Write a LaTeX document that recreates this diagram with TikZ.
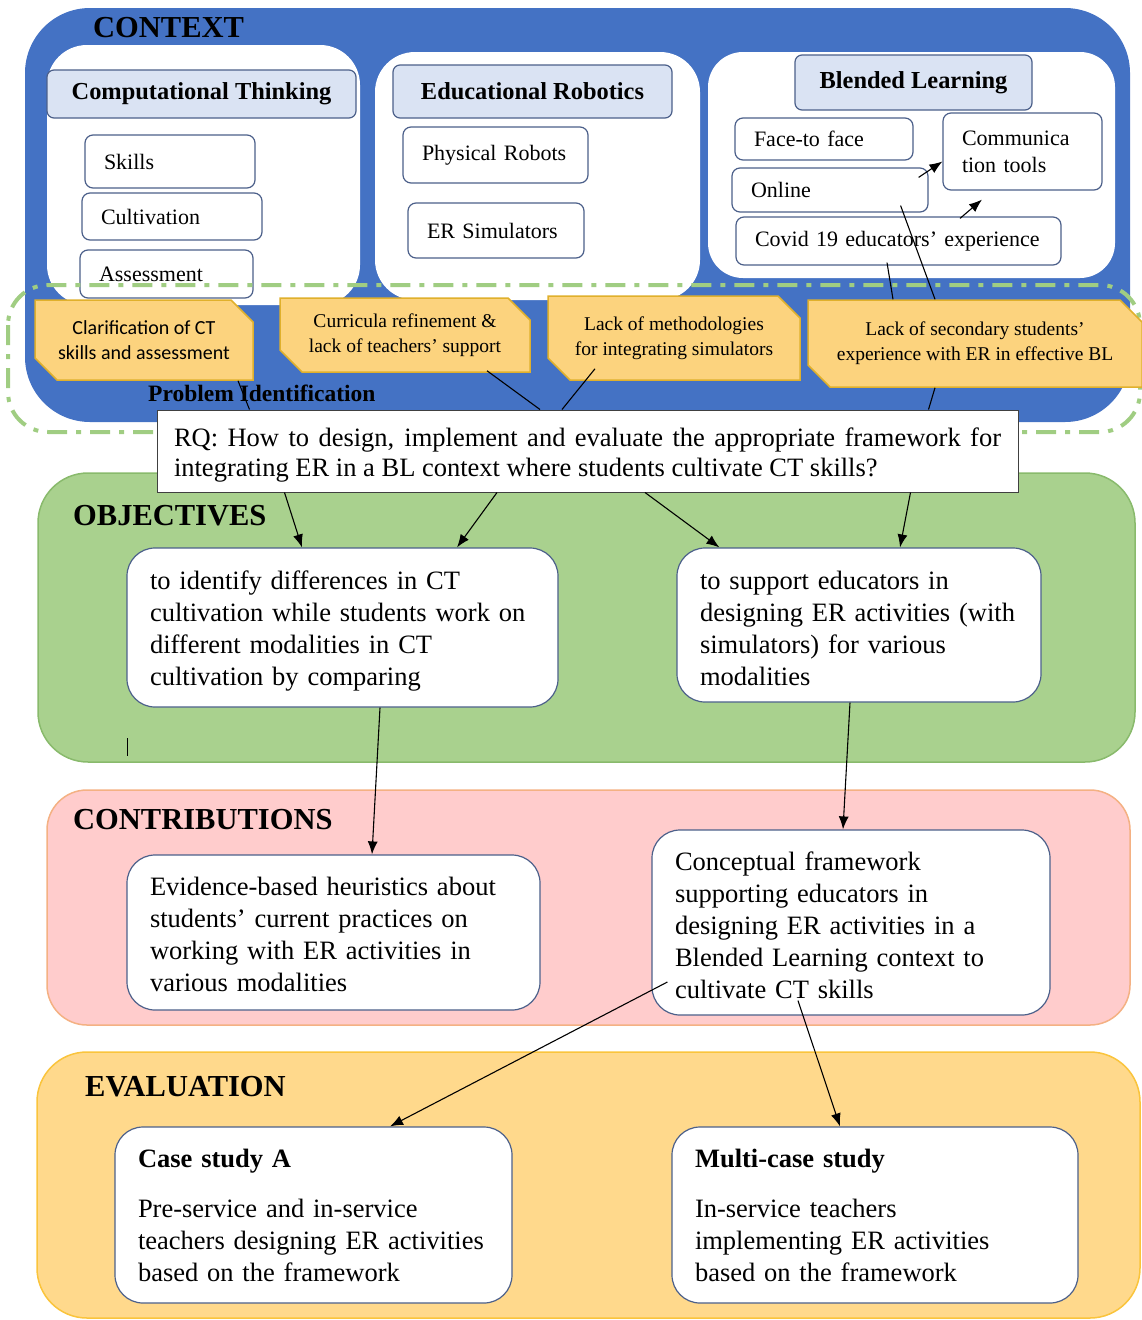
\documentclass[tikz,border=0pt]{standalone}
\usepackage{fontspec}
\setmainfont{Liberation Serif}
\newfontfamily\tabsans{Carlito}
\usetikzlibrary{arrows.meta,shapes.misc}

\definecolor{ctxblue}{RGB}{68,114,196}
\definecolor{headfill}{RGB}{218,227,243}
\definecolor{slate}{RGB}{76,96,138}
\definecolor{tabfill}{RGB}{252,211,126}
\definecolor{tabline}{RGB}{224,176,44}
\definecolor{objgreen}{RGB}{169,209,142}
\definecolor{objline}{RGB}{137,186,108}
\definecolor{dashgreen}{RGB}{160,205,130}
\definecolor{conpink}{RGB}{255,204,204}
\definecolor{conline}{RGB}{244,177,131}
\definecolor{evalfill}{RGB}{255,217,140}
\definecolor{evalline}{RGB}{250,196,60}

\newcommand\fntbody{\fontsize{26.5}{32}\selectfont}
\newcommand\fntrq{\fontsize{26.5}{30}\selectfont}
\newcommand\fntsect{\fontsize{30.5}{36}\selectfont\bfseries}
\newcommand\fnthead{\fontsize{24.4}{29}\selectfont\bfseries}
\newcommand\fntprob{\fontsize{23.5}{28}\selectfont\bfseries}
\newcommand\fntsub{\fontsize{22}{27}\selectfont}
\newcommand\fnttab{\fontsize{19.5}{25}\selectfont}
\newcommand\fnttabsans{\tabsans\fontsize{20}{25}\selectfont}

\begin{document}
\begin{tikzpicture}[x=1pt,y=-1pt,
  headbox/.style={draw=slate, line width=1.2pt, fill=headfill, rounded corners=7pt, font=\fnthead},
  subbox/.style={draw=slate, line width=1.2pt, fill=white, rounded corners=8pt, inner xsep=19pt, inner ysep=0pt, align=left, font=\fntsub},
  tabbox/.style={chamfered rectangle, chamfered rectangle corners={north east,south west}, chamfered rectangle sep=11pt, draw=tabline, line width=1.5pt, fill=tabfill, align=center, font=\fnttab, inner sep=0pt},
  mainbox/.style={draw=slate, line width=1.2pt, fill=white, rounded corners=28pt, inner xsep=23pt, align=left, font=\fntbody},
  lowtext/.style={execute at begin node={\rule{0pt}{#1}}},
  sectitle/.style={anchor=west, font=\fntsect, inner sep=0pt},
  conn/.style={line width=1.1pt},
  arr/.style={conn, -{Latex[length=13pt,width=10pt]}}]
\useasboundingbox (0,0) rectangle (1142,1320);

%Shape: context area
\fill[ctxblue, rounded corners=65pt] (25,8) rectangle (1130,422);
\fill[white, rounded corners=40pt] (47,45) rectangle (360,305);
\fill[white, rounded corners=40pt] (375,52) rectangle (700,300);
\fill[white, rounded corners=35pt] (708,52) rectangle (1115,278);

% Text Node
\node[sectitle] (ctxTitle) at (93,28) {CONTEXT};

% Headers
\node[headbox, minimum width=309pt, minimum height=48pt] (ctHead) at (201.5,94) {Computational Thinking};
\node[headbox, minimum width=279pt, minimum height=53pt] (erHead) at (532.5,91.5) {Educational Robotics};
\node[headbox, minimum width=237pt, minimum height=55pt] (blHead) at (913.5,82.5) {Blended Learning};

% Context items
\node[subbox, text width=132pt, minimum height=53pt] (skills) at (170,161.5) {Skills};
\node[subbox, text width=142pt, minimum height=47pt] (cultiv) at (172,216.5) {Cultivation};
\node[subbox, text width=135pt, minimum height=48pt] (assess) at (166.5,274) {Assessment};
\node[subbox, text width=147pt, minimum height=56pt] (physRob) at (495.5,155) {Physical Robots};
\node[subbox, text width=138pt, minimum height=55pt] (erSim) at (496,230.5) {ER Simulators};
\node[subbox, text width=140pt, minimum height=42pt] (face) at (824,139) {Face-to face};
\node[subbox, text width=158pt, minimum height=44pt] (online) at (830,190) {Online};
\node[subbox, text width=287pt, minimum height=48pt] (covid) at (898.5,241) {Covid 19 educators’ experience};
\node[subbox, text width=121pt, minimum height=77pt] (comm) at (1022.5,151.5) {Communica\\tion tools};

%Shape: problem identification band
\draw[dashgreen, line width=4pt, dash pattern=on 20pt off 9pt on 5pt off 9pt, rounded corners=40pt] (8,285) rectangle (1140,432);

% Problems
\node[tabbox, font=\fnttabsans, minimum width=218pt, minimum height=80pt] (tab1) at (144,340) {Clarification of CT\\skills and assessment};
\node[tabbox, minimum width=250pt, minimum height=74pt] (tab2) at (405,335) {Curricula refinement \&\\lack of teachers’ support};
\node[tabbox, minimum width=252pt, minimum height=84pt] (tab3) at (674,338) {Lack of methodologies\\for integrating simulators};
\node[tabbox, minimum width=334pt, minimum height=87pt] (tab4) at (975,343.5) {Lack of secondary students’\\experience with ER in effective BL};

% Text Node
\node[anchor=west, font=\fntprob, inner sep=0pt] (probId) at (148,393) {Problem Identification};

%Shape: objectives, contributions, evaluation areas
\draw[objline, fill=objgreen, line width=1.5pt, rounded corners=50pt] (38,473) rectangle (1135,762);
\draw[conline, fill=conpink, line width=1.5pt, rounded corners=40pt] (47,790) rectangle (1130,1025);
\draw[evalline, fill=evalfill, line width=1.5pt, rounded corners=50pt] (37,1052) rectangle (1140,1318);
\draw[line width=0.8pt] (127,738) -- (127,756);

\node[sectitle] (objTitle) at (73,516) {OBJECTIVES};
\node[sectitle] (conTitle) at (73,820) {CONTRIBUTIONS};
\node[sectitle] (evTitle) at (85,1087) {EVALUATION};

% Research question
\node[draw=black!75, line width=1pt, fill=white, text width=827pt, inner xsep=17pt, minimum height=82pt, align=justify, font=\fntrq, lowtext=26pt] (rq) at (587.5,451) {RQ: How to design, implement and evaluate the appropriate framework for\linebreak integrating ER in a BL context where students cultivate CT skills?};

% Boxes
\node[mainbox, lowtext=26pt, text width=385pt, minimum height=159pt] (obj1) at (342.5,627.5) {to identify differences in CT\\cultivation while students work on\\different modalities in CT\\cultivation by comparing};
\node[mainbox, lowtext=26pt, text width=318pt, minimum height=154pt] (obj2) at (859,625) {to support educators in\\designing ER activities (with\\simulators) for various\\modalities};
\node[mainbox, lowtext=22pt, text width=367pt, minimum height=155pt] (cont1) at (333.5,932.5) {Evidence-based heuristics about\\students’ current practices on\\working with ER activities in\\various modalities};
\node[mainbox, lowtext=24pt, text width=352pt, minimum height=185pt] (cont2) at (851,922.5) {Conceptual framework\\supporting educators in\\designing ER activities in a\\Blended Learning context to\\cultivate CT skills};
\node[mainbox, text width=351pt, minimum height=176pt] (caseA) at (313.5,1215) {\textbf{Case study A}\\[18pt]Pre-service and in-service\\teachers designing ER activities\\based on the framework};
\node[mainbox, text width=360pt, minimum height=176pt] (multi) at (875,1215) {\textbf{Multi-case study}\\[18pt]In-service teachers\\implementing ER activities\\based on the framework};

% Context links
\draw[arr] ([xshift=-10pt,yshift=-10pt]online.north east) -- ([yshift=-10pt]comm.west);
\draw[arr] ([xshift=61.5pt,yshift=-2pt]covid.north) -- ([xshift=-40.5pt,yshift=-9pt]comm.south);
\draw[conn] ([xshift=-28pt,yshift=7pt]online.south east) -- ([xshift=-40pt]tab4.north);
\draw[conn] ([xshift=-11.5pt,yshift=3pt]covid.south) -- ([xshift=-82pt]tab4.north);

% Problems to RQ
\draw[conn] ([xshift=94pt]tab1.south) -- ([xshift=93pt]rq.north west);
\draw[conn] ([xshift=82pt,yshift=2pt]tab2.south) -- ([xshift=-47.5pt]rq.north);
\draw[conn] ([xshift=-79pt,yshift=12pt]tab3.south) -- ([xshift=-25.5pt]rq.north);
\draw[conn] ([xshift=-40pt]tab4.south) -- ([xshift=-90pt]rq.north east);

% RQ to objectives
\draw[arr] ([xshift=128pt]rq.south west) -- ([xshift=-40.5pt]obj1.north);
\draw[arr] ([xshift=-90.5pt]rq.south) -- ([xshift=114.5pt]obj1.north);
\draw[arr] ([xshift=57.5pt]rq.south) -- ([xshift=43pt]obj2.north west);
\draw[arr] ([xshift=-108pt]rq.south east) -- ([xshift=41pt]obj2.north);

% Objectives to contributions
\draw[arr] ([xshift=37.5pt]obj1.south) -- ([xshift=38.5pt]cont1.north);
\draw[arr] ([xshift=-9pt]obj2.south) -- ([xshift=-8pt]cont2.north);

% Contribution to evaluation
\draw[arr] ([xshift=16pt,yshift=-59.5pt]cont2.west) -- ([xshift=76.5pt]caseA.north);
\draw[arr] ([xshift=-53pt,yshift=15pt]cont2.south) -- ([xshift=-35pt]multi.north);

\end{tikzpicture}
\end{document}
